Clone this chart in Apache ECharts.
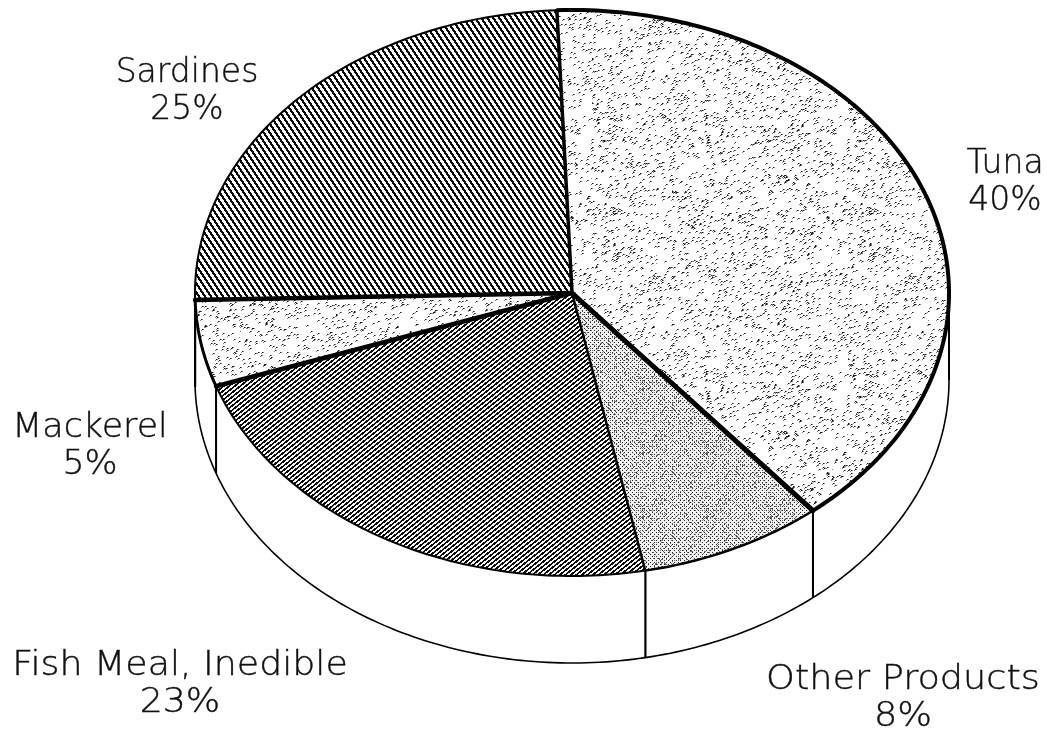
<!DOCTYPE html>
<html>
<head>
<meta charset="utf-8">
<style>
  html, body { margin: 0; padding: 0; background: #fff; }
  #main { width: 1047px; height: 733px; }
</style>
<script src="https://cdn.jsdelivr.net/npm/echarts@6/dist/echarts.min.js"></script>
</head>
<body>
<div id="main"></div>
<script>
// clockwise from the top of the pie
const categories = ['Tuna', 'Other Products', 'Fish Meal, Inedible', 'Mackerel', 'Sardines']
const shares = [40, 8, 23, 5, 25]
const textures = ['speckle', 'stipple', 'hatchUp', 'speckle', 'hatchDown']

// look of the tilted disc
const disc = { cx: 572, cy: 293, rx: 377, ry: 283, depth: 87, start: -2.3 }
const rimWidth = [4, 2.5, 2, 3, 2]
const spokeWidth = [5, 2.5, 4.5, 4.5, 3.5]
const labelSpot = [[1005, 183], [903, 699], [180, 685], [90, 447], [187, 92]]
const labelStretch = [1, 1.11, 1.1, 1.055, 1]

const total = shares.reduce((a, b) => a + b, 0)

function tile(w, h, paint) {
  const c = document.createElement('canvas')
  c.width = w
  c.height = h
  const ctx = c.getContext('2d')
  const img = ctx.createImageData(w, h)
  for (let y = 0; y < h; y++) {
    for (let x = 0; x < w; x++) {
      const v = paint(x, y)
      const i = (y * w + x) * 4
      img.data[i] = img.data[i + 1] = img.data[i + 2] = v
      img.data[i + 3] = 255
    }
  }
  ctx.putImageData(img, 0, 0)
  return c
}

// small fixed hash, only for the printed grain
function grain(x, y) {
  let n = (x * 374761393 + y * 668265263) | 0
  n = Math.imul(n ^ (n >>> 13), 1274126177)
  return ((n ^ (n >>> 16)) >>> 0) / 4294967295
}

const patterns = {
  speckle: tile(256, 256, (x, y) => {
    const odds = 0.025 + grain(x >> 4, y >> 4) * 0.03
    if (grain(x, y) < odds) return 25
    const nearby = grain((x + 255) % 256, y) < odds || grain((x + 1) % 256, (y + 255) % 256) < odds
    return nearby ? 130 : 255
  }),
  stipple: tile(64, 64, (x, y) => {
    const dot = (x % 4 === 0 && y % 4 === 0) || (x % 4 === 2 && y % 4 === 2)
    if (dot) return 40
    return grain(x, y) < 0.14 ? 110 : 240
  }),
  hatchUp: tile(11, 22, (x, y) => ((4 * x + 5 * y) % 22 < 11 ? 10 : 250)),
  hatchDown: tile(6, 9, (x, y) => ((3 * x - 2 * y + 36) % 18 < 8 ? 10 : 255))
}

function point(deg, drop) {
  const t = deg * Math.PI / 180
  return [disc.cx + disc.rx * Math.sin(t), disc.cy - disc.ry * Math.cos(t) + (drop || 0)]
}

function arc(from, to, drop) {
  const pts = []
  const steps = Math.max(2, Math.ceil(Math.abs(to - from)))
  for (let i = 0; i <= steps; i++) {
    pts.push(point(from + (to - from) * i / steps, drop))
  }
  return pts
}

function renderSlice(params, api) {
  const i = params.dataIndex
  const before = shares.slice(0, i).reduce((a, b) => a + b, 0)
  const from = disc.start + before / total * 360
  const to = from + api.value(0) / total * 360
  const children = []

  // side wall, only where it faces the viewer
  const a = Math.max(from, 90)
  const b = Math.min(to, 270)
  if (b > a) {
    const top = arc(a, b, 0)
    const low = arc(a, b, disc.depth)
    children.push({
      type: 'polygon',
      shape: { points: top.concat(low.slice().reverse()) },
      style: { fill: '#fff', stroke: null }
    })
    children.push({
      type: 'polyline',
      shape: { points: low },
      style: { fill: null, stroke: '#000', lineWidth: 1.6 }
    })
    children.push({
      type: 'polyline',
      shape: { points: [point(a, 0), point(a, disc.depth)] },
      style: { fill: null, stroke: '#000', lineWidth: 2 }
    })
    children.push({
      type: 'polyline',
      shape: { points: [point(b, 0), point(b, disc.depth)] },
      style: { fill: null, stroke: '#000', lineWidth: 2 }
    })
  }

  // top face
  const rim = arc(from, to, 0)
  children.push({
    type: 'polygon',
    shape: { points: [[disc.cx, disc.cy]].concat(rim) },
    style: { fill: { image: patterns[textures[i]], repeat: 'repeat' }, stroke: null }
  })
  children.push({
    type: 'polyline',
    shape: { points: rim },
    style: { fill: null, stroke: '#000', lineWidth: rimWidth[i] }
  })
  return { type: 'group', children: children }
}

function renderSpoke(params, api) {
  const i = params.dataIndex
  const before = shares.slice(0, i).reduce((a, b) => a + b, 0)
  const deg = disc.start + before / total * 360
  const k = (i + shares.length - 1) % shares.length
  const spot = labelSpot[i]
  return {
    type: 'group',
    children: [
      {
        type: 'line',
        shape: { x1: disc.cx, y1: disc.cy, x2: point(deg)[0], y2: point(deg)[1] },
        style: { stroke: '#000', lineWidth: spokeWidth[k], lineCap: 'round' }
      },
      {
        type: 'text',
        x: spot[0],
        y: spot[1],
        scaleX: labelStretch[i],
        style: {
          text: categories[i] + '\n' + api.value(0) + '%',
          font: '200 33px "DejaVu Sans", sans-serif',
          fill: '#111',
          stroke: '#111',
          lineWidth: 0.4,
          align: 'center',
          verticalAlign: 'middle',
          lineHeight: 37
        }
      }
    ]
  }
}

const chart = echarts.init(document.getElementById('main'))
const rows = categories.map((name, i) => ({ name: name, value: [shares[i]] }))
chart.setOption({
  backgroundColor: '#fff',
  animation: false,
  series: [
    { type: 'custom', coordinateSystem: 'none', renderItem: renderSlice, data: rows, silent: true, z: 1 },
    { type: 'custom', coordinateSystem: 'none', renderItem: renderSpoke, data: rows, silent: true, z: 2 }
  ]
})
</script>
</body>
</html>
